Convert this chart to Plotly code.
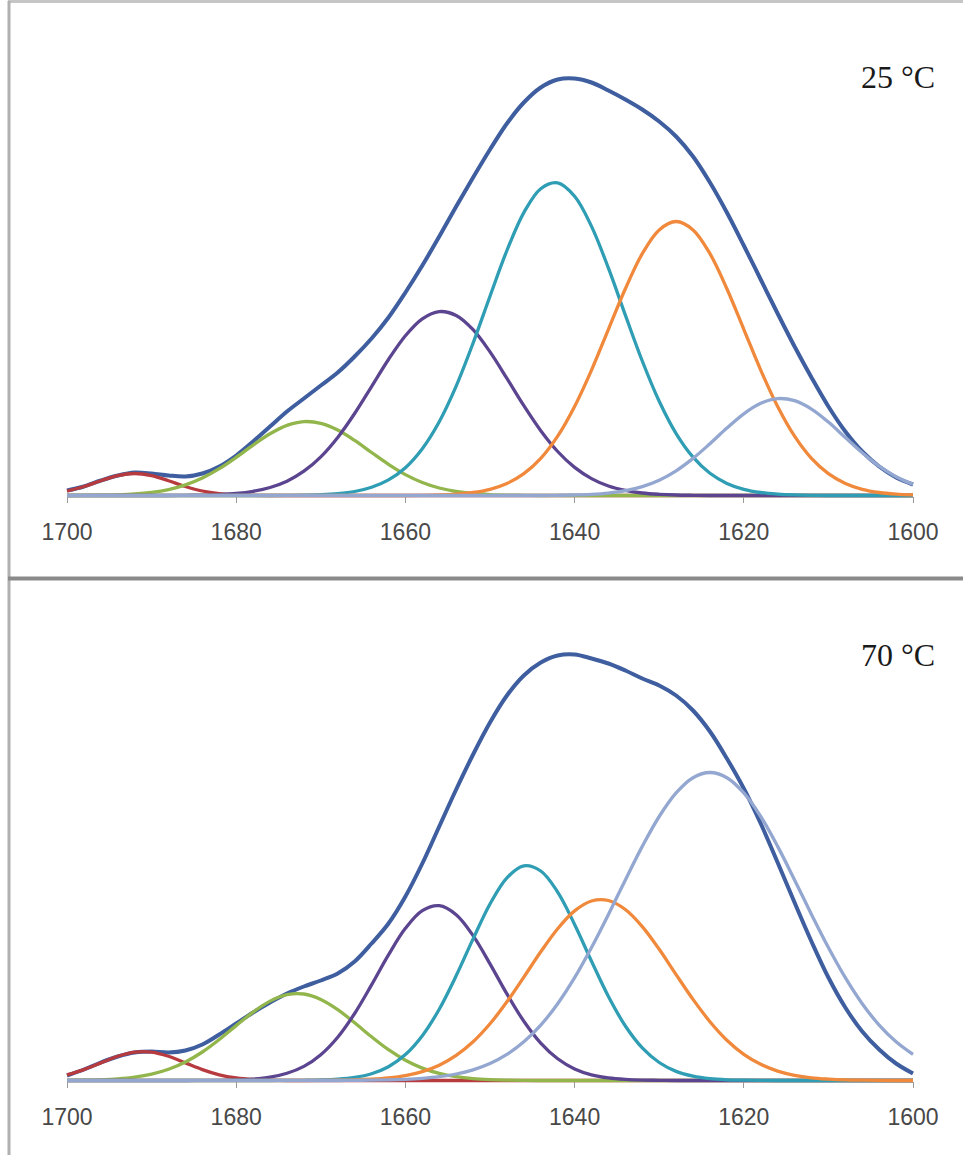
import plotly.graph_objects as go

W, H = 963, 1155

wavenumber = [1700, 1698, 1696, 1694, 1692, 1690, 1688, 1686, 1684, 1682,
              1680, 1678, 1676, 1674, 1672, 1670, 1668, 1666, 1664, 1662,
              1660, 1658, 1656, 1654, 1652, 1650, 1648, 1646, 1644, 1642,
              1640, 1638, 1636, 1634, 1632, 1630, 1628, 1626, 1624, 1622,
              1620, 1618, 1616, 1614, 1612, 1610, 1608, 1606, 1604, 1602, 1600]
tick_values = [1700, 1680, 1660, 1640, 1620, 1600]
tick_labels = ["1700", "1680", "1660", "1640", "1620", "1600"]
panel_labels = ["25 °C", "70 °C"]

# ---- 25 °C (intensity, a.u.) ----
env25 = [5, 9, 15, 20, 23, 22, 20, 19, 22, 29, 40, 54, 69, 84, 97, 110, 123, 139, 157, 178,
         203, 230, 259, 289, 318, 346, 372, 393, 408, 416, 417, 413, 405, 396, 386, 374, 359,
         339, 313, 283, 250, 216, 182, 149, 118, 89, 64, 44, 29, 18, 11]
red25 = [4.5, 9.0, 14.8, 19.9, 22.0, 19.9, 14.8, 9.0, 4.5, 1.9, 0.6, 0.2] + [0] * 39
green25 = [0, 0.1, 0.3, 0.7, 1.5, 3.1, 5.9, 10.6, 17.5, 26.8, 38.2, 50.4, 61.7, 70.1, 73.9,
           72.2, 65.5, 55.1, 43.0, 31.2, 20.9, 13.0, 7.5, 4.0, 2.0, 0.9, 0.4, 0.2] + [0] * 23
purple25 = [0] * 7 + [0.2, 0.4, 0.9, 2.0, 4.2, 8.0, 14.3, 24.3, 38.7, 58.1, 82.0, 108.9, 136.0,
                      159.8, 176.7, 183.9, 180.0, 165.8, 143.6, 117.1, 89.8, 64.8, 44.0, 28.1,
                      16.9, 9.5, 5.1, 2.5, 1.2, 0.5, 0.2] + [0] * 13
cyan25 = [0] * 13 + [0.1, 0.3, 0.8, 1.9, 4.0, 8.2, 15.6, 27.8, 46.8, 73.8, 109.4, 152.4, 199.3,
                     245.0, 282.9, 306.8, 312.6, 299.2, 269.1, 227.3, 180.4, 134.5, 94.2, 61.9,
                     38.3, 22.2, 12.1, 6.2, 3.0, 1.4, 0.6, 0.2] + [0] * 6
orange25 = [0] * 21 + [0.2, 0.6, 1.4, 3.0, 6.2, 12.0, 21.8, 37.1, 59.3, 89.0, 125.4, 166.2,
                       206.8, 241.8, 265.6, 274.0, 265.6, 241.8, 206.8, 166.2, 125.4, 89.0,
                       59.3, 37.1, 21.8, 12.0, 6.2, 3.0, 1.4, 0.6]
lav25 = [0] * 29 + [0.2, 0.5, 1.1, 2.4, 4.8, 8.9, 15.3, 24.7, 37.1, 51.8, 67.4, 81.7, 92.2,
                    96.9, 94.8, 86.4, 73.4, 58.0, 42.8, 29.3, 18.7, 11.2]

# ---- 70 °C (intensity, a.u.) ----
env70 = [5, 11, 18, 24, 28, 29, 28, 30, 36, 46, 57, 68, 78, 87, 94, 100, 107, 119, 137, 157,
         184, 217, 254, 291, 326, 358, 385, 405, 418, 425, 426, 422, 417, 410, 402, 395, 385,
         370, 349, 322, 292, 257, 218, 178, 139, 103, 73, 49, 31, 17, 7]
red70 = [5.7, 10.9, 17.6, 24.2, 28.4, 28.4, 24.2, 17.6, 10.9, 5.7, 2.6, 1.0, 0.3] + [0] * 38
green70 = [0.1, 0.3, 0.7, 1.6, 3.3, 6.3, 11.2, 18.5, 28.5, 41.0, 54.9, 68.4, 79.4, 85.9, 86.5,
           81.1, 70.9, 57.7, 43.7, 30.8, 20.3, 12.4, 7.1, 3.8, 1.9, 0.9, 0.4, 0.1] + [0] * 23
purple70 = [0] * 8 + [0.1, 0.2, 0.6, 1.4, 3.3, 7.2, 14.1, 25.8, 43.3, 67.0, 95.6, 125.6, 152.2,
                      169.9, 174.8, 165.8, 144.9, 116.7, 86.6, 59.3, 37.4, 21.7, 11.6, 5.7,
                      2.6, 1.1, 0.4, 0.2] + [0] * 15
cyan70 = [0] * 13 + [0.1, 0.2, 0.5, 1.3, 3.1, 6.8, 13.8, 25.9, 44.8, 71.3, 104.7, 141.6, 176.5,
                     202.7, 214.7, 209.5, 188.4, 156.1, 119.3, 84.0, 54.5, 32.6, 18.0, 9.1,
                     4.3, 1.8, 0.7, 0.3, 0.1] + [0] * 9
orange70 = [0] * 15 + [0.1, 0.3, 0.6, 1.3, 2.6, 4.9, 8.9, 15.3, 25.1, 38.7, 56.7, 78.7, 103.4,
                       128.7, 151.8, 169.6, 179.5, 180.0, 171.0, 153.9, 131.2, 105.9, 81.1,
                       58.8, 40.3, 26.2, 16.2, 9.4, 5.2, 2.7, 1.4, 0.6, 0.3, 0.1] + [0] * 2
lav70 = [0] * 17 + [0.2, 0.3, 0.6, 1.2, 2.2, 3.8, 6.5, 10.7, 17.0, 26.1, 38.7, 55.4, 76.8,
                    102.8, 133.0, 166.1, 200.6, 234.1, 264.0, 287.6, 302.8, 308.0, 302.8,
                    287.6, 264.0, 234.1, 200.6, 166.1, 133.0, 102.8, 76.8, 55.4, 38.7, 26.1]

colors = {
    "env": "#3E5E9F",
    "red": "#B63A3E",
    "green": "#92B64C",
    "purple": "#5C4590",
    "cyan": "#2F9EB4",
    "orange": "#F0893B",
    "lav": "#93A7D0",
}

panels = [
    (env25, red25, green25, purple25, cyan25, orange25, lav25),
    (env70, red70, green70, purple70, cyan70, orange70, lav70),
]
names = ["env", "red", "green", "purple", "cyan", "orange", "lav"]

fig = go.Figure()

def py(px):
    return 1 - px / H

x_left_px, x_right_px = 67, 913          # pixel columns of 1700 and 1600
ppu = (x_right_px - x_left_px) / 100.0
xr = [1701.5, 1598.5]
xdom = [(x_left_px - 1.5 * ppu) / W, (x_right_px + 1.5 * ppu) / W]
baselines = [495.5, 1080.5]
top_pad = 455.5
bot_pad = 12

for p, series in enumerate(panels):
    xa = "x" if p == 0 else "x2"
    ya = "y" if p == 0 else "y2"
    for nm, ys in zip(names, series):
        fig.add_trace(go.Scatter(
            x=wavenumber, y=ys, mode="lines", xaxis=xa, yaxis=ya,
            line=dict(color=colors[nm], width=4.0 if nm == "env" else 3.3,
                      shape="spline", smoothing=1.0),
            showlegend=False, hoverinfo="skip"))

def xaxis_cfg(base):
    return dict(range=xr, domain=xdom, anchor="free", position=py(base),
                automargin=False,
                showgrid=False, zeroline=False, showline=False,
                tickmode="array", tickvals=tick_values, ticktext=tick_labels,
                ticks="outside", ticklen=6, tickwidth=1, tickcolor="#9a9a9a",
                ticklabelstandoff=10,
                tickfont=dict(family="Liberation Sans, Arial", size=23, color="#484848"))

def yaxis_cfg(base, xa):
    return dict(range=[-bot_pad, top_pad], domain=[py(base + bot_pad), py(base - top_pad)],
                visible=False, automargin=False, showgrid=False, zeroline=False,
                fixedrange=True, anchor=xa)

fig.update_layout(
    width=W, height=H, margin=dict(l=0, r=0, t=0, b=0, pad=0, autoexpand=False),
    paper_bgcolor="white", plot_bgcolor="rgba(0,0,0,0)",
    xaxis=xaxis_cfg(baselines[0]), yaxis=yaxis_cfg(baselines[0], "x"),
    xaxis2=xaxis_cfg(baselines[1]), yaxis2=yaxis_cfg(baselines[1], "x2"),
)

for lbl, ypx in zip(panel_labels, [77, 655]):
    fig.add_annotation(text=lbl, xref="paper", yref="paper", x=898 / W, y=py(ypx),
                       showarrow=False, xanchor="center", yanchor="middle",
                       font=dict(family="Liberation Serif, Times New Roman", size=32, color="#1a1a1a"))

# frame lines
fig.add_shape(type="line", xref="paper", yref="paper", x0=8 / W, x1=1, y0=py(1.5), y1=py(1.5),
              line=dict(color="#c6c6c6", width=3))
fig.add_shape(type="line", xref="paper", yref="paper", x0=9 / W, x1=9 / W, y0=py(1), y1=0,
              line=dict(color="#b0b0b0", width=3))
fig.add_shape(type="line", xref="paper", yref="paper", x0=8 / W, x1=1, y0=py(578.5), y1=py(578.5),
              line=dict(color="#8a8a8a", width=4))

fig.write_html("out.html", config={"staticPlot": True, "displayModeBar": False},
               post_script="document.body.style.margin='0px';")
